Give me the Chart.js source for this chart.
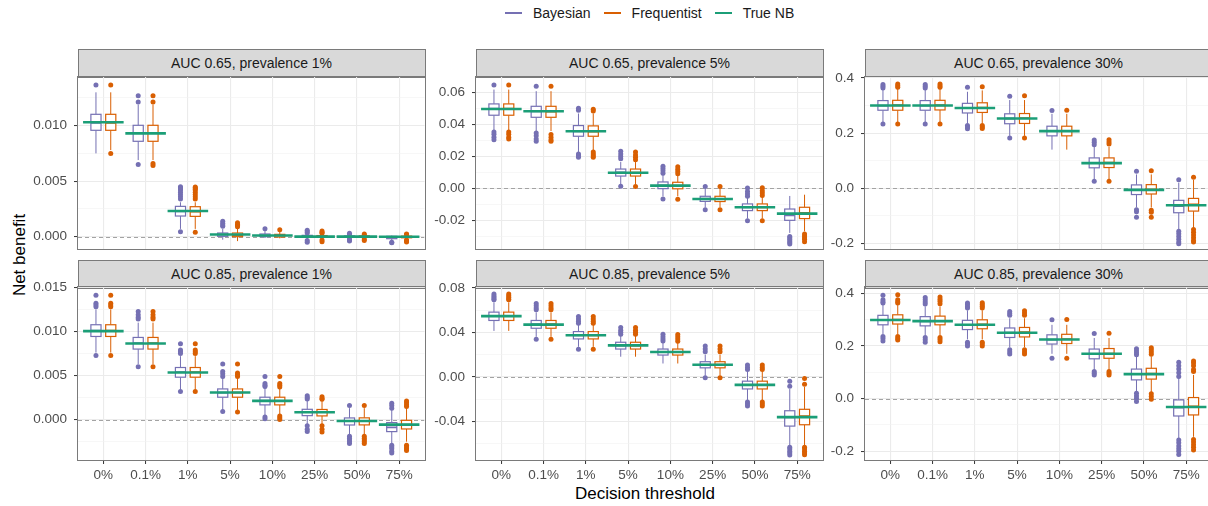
<!DOCTYPE html>
<html>
<head>
<meta charset="utf-8">
<script src="https://cdn.jsdelivr.net/npm/chart.js@4.4.1/dist/chart.umd.min.js"></script>
<style>
  html, body { margin: 0; padding: 0; background: #fff; overflow: hidden; }
  body { width: 1208px; height: 506px; position: relative; font-family: "Liberation Sans", Arial, sans-serif; }
  canvas { position: absolute; }
  .strip { position: absolute; box-sizing: border-box; background: #D9D9D9; border: 1px solid #7a7a7a;
           font-size: 14px; color: #1a1a1a; text-align: center; line-height: 26px; width: 348px; height: 29px; }
  .legend { position: absolute; top: 5px; left: 505px; display: flex; align-items: center; font-size: 14px; color: #1a1a1a; }
  .legend .sw { width: 17px; height: 2px; margin-right: 11px; }
  .legend .item { display: flex; align-items: center; margin-right: 13px; }
  .ytitle { position: absolute; left: 20px; top: 255px; transform: translate(-50%, -50%) rotate(-90deg); font-size: 17px; white-space: nowrap; }
  .xtitle { position: absolute; left: 645px; top: 494px; transform: translate(-50%, -50%); font-size: 17px; white-space: nowrap; }
</style>
</head>
<body>
<div class="legend">
  <div class="item"><div class="sw" style="background:#7570B3"></div>Bayesian</div>
  <div class="item"><div class="sw" style="background:#D95F02"></div>Frequentist</div>
  <div class="item"><div class="sw" style="background:#1B9E77"></div>True NB</div>
</div>
<div class="ytitle">Net benefit</div>
<div class="xtitle">Decision threshold</div>
<script>
// thresholds on the x axis
const thresholds = ['0%', '0.1%', '1%', '5%', '10%', '25%', '50%', '75%'];

// box stats per threshold: [lower whisker, q1, median, q3, upper whisker]

// AUC 0.65, prevalence 1%
const a65p1Bayes = [[0.0075, 0.00958, 0.01024, 0.01102, 0.0130], [0.0069, 0.00859, 0.00934, 0.01003, 0.0119], [0.0007, 0.00186, 0.00228, 0.00273, 0.0031], [-0.00027, 0.00003, 0.00018, 0.00033, 0.0007], [-0.00012, 0.0, 0.00012, 0.00024, 0.0005], [-0.0002, -0.00005, 0.0, 0.00012, 0.0003], [-0.0001, -0.00006, 0.0, 0.00006, 0.0001], [-0.00035, -0.00018, -0.00006, 0.00003, 0.0001]];
const a65p1BayesOut = [[0.01366], [0.0127, 0.01213, 0.0065], [0.0045, 0.0044, 0.0043, 0.0042, 0.0040, 0.0038, 0.0036, 0.0034, 0.00045], [0.00138, 0.0012, 0.00105, 0.00093], [0.00072], [0.00057, 0.00045, 0.00033, -0.00035, -0.0005], [0.0003, 0.0002, -0.0002, -0.0003, -0.0004], [-0.00054, -0.0005]];
const a65p1Freq = [[0.0078, 0.00958, 0.01024, 0.01102, 0.0130], [0.0069, 0.00859, 0.00934, 0.01003, 0.0119], [0.0007, 0.00183, 0.00225, 0.00270, 0.0031], [-0.0004, 0.0, 0.00015, 0.00033, 0.0007], [-0.00015, -0.00003, 0.0001, 0.00021, 0.00045], [-0.0002, -0.00006, 0.0, 0.0001, 0.00025], [-0.0001, -0.00006, 0.0, 0.00006, 0.0001], [-0.0002, -0.0001, -0.00003, 0.00005, 0.00015]];
const a65p1FreqOut = [[0.01366, 0.0075], [0.0127, 0.01213, 0.0066, 0.0064], [0.00448, 0.0044, 0.0043, 0.0042, 0.004, 0.0038, 0.0036, 0.0034, 0.0004], [0.00125, 0.0011, 0.001, 0.0009], [0.00063], [0.0005, 0.0004, 0.0003, -0.0003, -0.00045], [0.00025, 0.00015, -0.0002, -0.00035], [0.00024, 0.0002, -0.0003, -0.0004, -0.00048]];
const a65p1True = [0.0103, 0.0093, 0.00231, 0.0002, 0.0001, 0.0, 0.0, -0.00001];
const a65p1Y = [-0.00111, 0.01438];
const a65p1Ticks = [0, 0.005, 0.010];
const a65p1TickLabels = ['0.000', '0.005', '0.010'];
const a65p1Minor = [0.0025, 0.0075, 0.0125];

// AUC 0.65, prevalence 5%
const a65p5Bayes = [[0.036, 0.0459, 0.050, 0.053, 0.062], [0.036, 0.0446, 0.0484, 0.0515, 0.061], [0.0225, 0.0327, 0.0358, 0.0394, 0.047], [0.002, 0.0077, 0.010, 0.0121, 0.0165], [-0.005, -0.0002, 0.0019, 0.004, 0.0085], [-0.012, -0.0082, -0.0065, -0.005, 0.0], [-0.019, -0.014, -0.012, -0.0098, -0.0055], [-0.028, -0.0201, -0.017, -0.013, -0.0048]];
const a65p5BayesOut = [[0.0649, 0.0354, 0.034, 0.032, 0.0305], [0.0641, 0.0348, 0.033, 0.031, 0.0295], [0.0502, 0.049, 0.0215, 0.0205, 0.0195], [0.0232, 0.0215, 0.0200, 0.0185, 0.0013], [0.0138, 0.0125, 0.011, 0.0095, -0.0067], [0.0012, -0.0134], [0.0002, -0.002, -0.0035, -0.005, -0.0203], [-0.0302, -0.031, -0.032, -0.033, -0.034, -0.035]];
const a65p5Freq = [[0.036, 0.0459, 0.050, 0.053, 0.062], [0.036, 0.0446, 0.0482, 0.0515, 0.061], [0.024, 0.0327, 0.0356, 0.0392, 0.047], [0.0025, 0.0077, 0.0099, 0.0121, 0.0165], [-0.005, -0.0003, 0.0017, 0.0038, 0.0085], [-0.012, -0.0083, -0.0066, -0.005, 0.0], [-0.019, -0.014, -0.012, -0.0098, -0.0055], [-0.027, -0.019, -0.0155, -0.0119, -0.004]];
const a65p5FreqOut = [[0.0649, 0.0354, 0.034, 0.032, 0.031], [0.0641, 0.0338, 0.032, 0.0305, 0.0295], [0.0497, 0.0485, 0.0228, 0.0215, 0.0205, 0.0195], [0.0228, 0.021, 0.0195, 0.018, 0.0011], [0.0135, 0.012, 0.0105, 0.0092, -0.0068], [0.0011, -0.0135], [0.0004, -0.0015, -0.003, -0.0045, -0.0203], [-0.0287, -0.03, -0.031, -0.032, -0.0335]];
const a65p5True = [0.0498, 0.0484, 0.0358, 0.0098, 0.0017, -0.0067, -0.0119, -0.0159];
const a65p5Y = [-0.0381, 0.0699];
const a65p5Ticks = [-0.02, 0, 0.02, 0.04, 0.06];
const a65p5TickLabels = ['-0.02', '0.00', '0.02', '0.04', '0.06'];
const a65p5Minor = [-0.03, -0.01, 0.01, 0.03, 0.05];

// AUC 0.65, prevalence 30%
const a65p30Bayes = [[0.24, 0.283, 0.30, 0.318, 0.36], [0.24, 0.283, 0.30, 0.318, 0.36], [0.235, 0.273, 0.291, 0.308, 0.35], [0.19, 0.234, 0.253, 0.27, 0.32], [0.14, 0.19, 0.207, 0.225, 0.27], [0.03, 0.074, 0.092, 0.11, 0.15], [-0.07, -0.023, -0.005, 0.012, 0.05], [-0.15, -0.089, -0.065, -0.044, 0.02]];
const a65p30BayesOut = [[0.376, 0.37, 0.364, 0.233], [0.376, 0.37, 0.364, 0.233], [0.366, 0.228, 0.222, 0.216], [0.334, 0.182], [0.282], [0.175, 0.167, 0.158, 0.025], [0.062, -0.078, -0.085, -0.105], [0.031, -0.156, -0.165, -0.175, -0.185, -0.195, -0.202]];
const a65p30Freq = [[0.24, 0.283, 0.301, 0.319, 0.36], [0.24, 0.284, 0.301, 0.319, 0.36], [0.235, 0.275, 0.292, 0.31, 0.355], [0.19, 0.235, 0.254, 0.271, 0.32], [0.14, 0.19, 0.207, 0.225, 0.27], [0.03, 0.075, 0.093, 0.11, 0.15], [-0.07, -0.021, -0.004, 0.013, 0.05], [-0.145, -0.083, -0.059, -0.037, 0.03]];
const a65p30FreqOut = [[0.378, 0.372, 0.366, 0.233], [0.378, 0.372, 0.366, 0.233], [0.368, 0.228, 0.222, 0.217], [0.336, 0.182], [0.283], [0.176, 0.168, 0.16, 0.025], [0.063, -0.08, -0.087, -0.105], [0.04, -0.15, -0.16, -0.17, -0.18, -0.19, -0.195]];
const a65p30True = [0.30, 0.30, 0.291, 0.253, 0.207, 0.091, -0.006, -0.062];
const a65p30Y = [-0.2206, 0.4036];
const a65p30Ticks = [-0.2, 0, 0.2, 0.4];
const a65p30TickLabels = ['-0.2', '0.0', '0.2', '0.4'];
const a65p30Minor = [-0.1, 0.1, 0.3];

// AUC 0.85, prevalence 1%
const a85p1Bayes = [[0.0076, 0.00943, 0.01008, 0.01076, 0.0125], [0.0063, 0.008, 0.00867, 0.00932, 0.0110], [0.0034, 0.00481, 0.00538, 0.00591, 0.0072], [0.0011, 0.00254, 0.00307, 0.00348, 0.0048], [0.0005, 0.00167, 0.00216, 0.00254, 0.0036], [-0.0006, 0.00045, 0.00087, 0.00117, 0.0022], [-0.0018, -0.00061, -0.00015, 0.00019, 0.0013], [-0.0027, -0.00136, -0.00087, -0.00034, 0.0011]];
const a85p1BayesOut = [[0.0141, 0.0132, 0.013, 0.0128, 0.00727], [0.01227, 0.0119, 0.0116, 0.0114, 0.006], [0.0086, 0.0079, 0.0077, 0.0075, 0.00318], [0.0063, 0.00545, 0.0052, 0.0049, 0.00091], [0.0049, 0.0041, 0.0039, 0.00375, 0.0003, 0.0001], [0.0027, 0.0025, 0.00235, -0.0007, -0.0011, -0.00136], [0.0016, -0.0019, -0.0021, -0.0023, -0.0025, -0.0027], [0.00186, 0.0016, 0.0013, -0.0029, -0.0031, -0.0033, -0.0036, -0.0038]];
const a85p1Freq = [[0.0076, 0.00943, 0.01008, 0.01076, 0.0125], [0.0063, 0.008, 0.00867, 0.00932, 0.0110], [0.0034, 0.00481, 0.00538, 0.00591, 0.0072], [0.0011, 0.00254, 0.00305, 0.00348, 0.0048], [0.0005, 0.00167, 0.00212, 0.00254, 0.0036], [-0.0006, 0.00042, 0.00085, 0.00115, 0.0021], [-0.0018, -0.0006, -0.00015, 0.0002, 0.0013], [-0.0025, -0.00106, -0.00057, -0.00008, 0.0014]];
const a85p1FreqOut = [[0.0141, 0.0132, 0.013, 0.0128, 0.00727], [0.01227, 0.0119, 0.0116, 0.0114, 0.006], [0.0086, 0.0079, 0.0077, 0.0075, 0.00318], [0.0063, 0.0053, 0.0051, 0.0049, 0.00085], [0.0049, 0.0041, 0.0039, 0.0037, 0.0004, 0.0002, 0.0], [0.0026, 0.0024, 0.0023, -0.0007, -0.0011, -0.0014], [0.0016, -0.0019, -0.0021, -0.0023, -0.0025, -0.0027], [0.0021, 0.0019, 0.0017, 0.0015, -0.0029, -0.0031, -0.0033, -0.0035]];
const a85p1True = [0.01004, 0.00864, 0.00534, 0.00307, 0.00212, 0.00083, -0.00015, -0.00057];
const a85p1Y = [-0.00458, 0.01504];
const a85p1Ticks = [0, 0.005, 0.010, 0.015];
const a85p1TickLabels = ['0.000', '0.005', '0.010', '0.015'];
const a85p1Minor = [-0.0025, 0.0025, 0.0075, 0.0125];

// AUC 0.85, prevalence 5%
const a85p5Bayes = [[0.0413, 0.0507, 0.0546, 0.0582, 0.067], [0.036, 0.0437, 0.0473, 0.0507, 0.058], [0.027, 0.0341, 0.0374, 0.0407, 0.047], [0.0181, 0.025, 0.028, 0.0311, 0.037], [0.012, 0.0196, 0.0223, 0.025, 0.031], [0.001, 0.0081, 0.0109, 0.0136, 0.020], [-0.022, -0.0109, -0.0075, -0.0039, 0.005], [-0.062, -0.0443, -0.0365, -0.0305, -0.011]];
const a85p5BayesOut = [[0.0745, 0.073, 0.0715, 0.070, 0.0693], [0.066, 0.064, 0.062, 0.0603, 0.0338], [0.0543, 0.052, 0.050, 0.0482, 0.0247], [0.0443, 0.042, 0.040, 0.0383], [0.0383, 0.036, 0.034, 0.0323], [0.0277, 0.025, 0.0226, -0.0009], [0.0106, 0.0085, 0.0066, -0.0226, -0.0245, -0.0262], [-0.0039, -0.0084, -0.0633, -0.065, -0.067, -0.0685, -0.0703]];
const a85p5Freq = [[0.0413, 0.0507, 0.0546, 0.0582, 0.067], [0.036, 0.0437, 0.0473, 0.0507, 0.058], [0.027, 0.0341, 0.0374, 0.0407, 0.047], [0.0181, 0.025, 0.028, 0.0311, 0.037], [0.012, 0.0196, 0.0223, 0.025, 0.031], [0.001, 0.0081, 0.0109, 0.0136, 0.020], [-0.022, -0.0109, -0.0075, -0.0039, 0.005], [-0.062, -0.0431, -0.0353, -0.0292, -0.009]];
const a85p5FreqOut = [[0.0745, 0.073, 0.0715, 0.070, 0.0693], [0.066, 0.064, 0.062, 0.0603, 0.0338], [0.0543, 0.052, 0.050, 0.0482, 0.0247], [0.0443, 0.042, 0.040, 0.0383], [0.038, 0.036, 0.034, 0.032], [0.0277, 0.025, 0.0226, -0.0009], [0.0106, 0.0085, 0.0066, -0.0226, -0.0245, -0.0262], [-0.0015, -0.0066, -0.0633, -0.065, -0.067, -0.0685, -0.070]];
const a85p5True = [0.0546, 0.047, 0.0374, 0.0283, 0.0223, 0.0109, -0.0072, -0.0362];
const a85p5Y = [-0.0748, 0.0808];
const a85p5Ticks = [-0.04, 0, 0.04, 0.08];
const a85p5TickLabels = ['-0.04', '0.00', '0.04', '0.08'];
const a85p5Minor = [-0.06, -0.02, 0.02, 0.06];

// AUC 0.85, prevalence 30%
const a85p30Bayes = [[0.245, 0.28, 0.298, 0.316, 0.355], [0.24, 0.276, 0.293, 0.311, 0.35], [0.225, 0.262, 0.28, 0.297, 0.335], [0.195, 0.232, 0.25, 0.268, 0.305], [0.17, 0.207, 0.224, 0.242, 0.28], [0.11, 0.151, 0.17, 0.188, 0.23], [0.025, 0.071, 0.093, 0.112, 0.16], [-0.15, -0.066, -0.034, -0.005, 0.08]];
const a85p30BayesOut = [[0.392, 0.375, 0.368, 0.363, 0.236, 0.228, 0.219], [0.384, 0.375, 0.367, 0.359, 0.232, 0.223, 0.214], [0.363, 0.356, 0.349, 0.344, 0.214, 0.207, 0.2], [0.331, 0.323, 0.316, 0.185, 0.177, 0.169], [0.299, 0.153], [0.247, 0.103, 0.096, 0.09], [0.189, 0.181, 0.173, 0.166, 0.02, 0.01, 0.0, -0.011], [0.138, 0.125, 0.112, 0.098, 0.084, -0.157, -0.168, -0.18, -0.19, -0.2, -0.212]];
const a85p30Freq = [[0.245, 0.283, 0.3, 0.318, 0.355], [0.24, 0.28, 0.295, 0.313, 0.35], [0.225, 0.265, 0.282, 0.299, 0.335], [0.195, 0.234, 0.252, 0.27, 0.305], [0.17, 0.209, 0.226, 0.244, 0.28], [0.11, 0.153, 0.171, 0.19, 0.23], [0.025, 0.074, 0.095, 0.115, 0.16], [-0.145, -0.062, -0.03, 0.004, 0.09]];
const a85p30FreqOut = [[0.394, 0.375, 0.368, 0.363, 0.236, 0.228, 0.222], [0.386, 0.377, 0.369, 0.36, 0.232, 0.224, 0.216], [0.364, 0.357, 0.35, 0.344, 0.214, 0.207, 0.2], [0.333, 0.325, 0.316, 0.185, 0.177, 0.169], [0.3, 0.153], [0.248, 0.103, 0.096, 0.09], [0.193, 0.185, 0.177, 0.168, 0.018, 0.008, -0.002], [0.143, 0.135, 0.125, 0.11, 0.103, -0.155, -0.165, -0.175, -0.185, -0.195]];
const a85p30True = [0.298, 0.294, 0.28, 0.25, 0.224, 0.17, 0.093, -0.032];
const a85p30Y = [-0.233, 0.4235];
const a85p30Ticks = [-0.2, 0, 0.2, 0.4];
const a85p30TickLabels = ['-0.2', '0.0', '0.2', '0.4'];
const a85p30Minor = [-0.1, 0.1, 0.3];

const BAYES_COL = '#7570B3';
const FREQ_COL = '#D95F02';
const TRUE_COL = '#1B9E77';
const DODGE = 0.175;      // box offset from category centre, in category units
const BOX_HALF = 0.12;
const TRUE_HALF = 0.48;

const colLeft = [78, 476, 865];
const plotTop = [77, 287];
const plotH = [172, 173];
const stripTop = [49, 260];
const PLOT_W = 347;
const AXIS_W = 60;

const panels = [
  { title: 'AUC 0.65, prevalence 1%', bayes: a65p1Bayes, bayesOut: a65p1BayesOut, freq: a65p1Freq, freqOut: a65p1FreqOut, truth: a65p1True, yr: a65p1Y, ticks: a65p1Ticks, labels: a65p1TickLabels, minor: a65p1Minor, col: 0, row: 0 },
  { title: 'AUC 0.65, prevalence 5%', bayes: a65p5Bayes, bayesOut: a65p5BayesOut, freq: a65p5Freq, freqOut: a65p5FreqOut, truth: a65p5True, yr: a65p5Y, ticks: a65p5Ticks, labels: a65p5TickLabels, minor: a65p5Minor, col: 1, row: 0 },
  { title: 'AUC 0.65, prevalence 30%', bayes: a65p30Bayes, bayesOut: a65p30BayesOut, freq: a65p30Freq, freqOut: a65p30FreqOut, truth: a65p30True, yr: a65p30Y, ticks: a65p30Ticks, labels: a65p30TickLabels, minor: a65p30Minor, col: 2, row: 0 },
  { title: 'AUC 0.85, prevalence 1%', bayes: a85p1Bayes, bayesOut: a85p1BayesOut, freq: a85p1Freq, freqOut: a85p1FreqOut, truth: a85p1True, yr: a85p1Y, ticks: a85p1Ticks, labels: a85p1TickLabels, minor: a85p1Minor, col: 0, row: 1 },
  { title: 'AUC 0.85, prevalence 5%', bayes: a85p5Bayes, bayesOut: a85p5BayesOut, freq: a85p5Freq, freqOut: a85p5FreqOut, truth: a85p5True, yr: a85p5Y, ticks: a85p5Ticks, labels: a85p5TickLabels, minor: a85p5Minor, col: 1, row: 1 },
  { title: 'AUC 0.85, prevalence 30%', bayes: a85p30Bayes, bayesOut: a85p30BayesOut, freq: a85p30Freq, freqOut: a85p30FreqOut, truth: a85p30True, yr: a85p30Y, ticks: a85p30Ticks, labels: a85p30TickLabels, minor: a85p30Minor, col: 2, row: 1 }
];

Chart.defaults.font.family = '"Liberation Sans", Arial, sans-serif';

function outlierPoints(out, shift) {
  return out.flatMap((vals, i) => vals.map(v => ({ x: i + shift, y: v })));
}

// boxes, whiskers, zero line, true NB bars and the panel frame
function boxPlugin(p) {
  const groups = [
    { stats: p.bayes, shift: -DODGE, color: BAYES_COL },
    { stats: p.freq, shift: DODGE, color: FREQ_COL }
  ];
  return {
    id: 'boxPlot',
    beforeDatasetsDraw(chart) {
      const { ctx, chartArea: a, scales: { x, y } } = chart;
      ctx.save();
      ctx.beginPath();
      ctx.rect(a.left, a.top, a.width, a.height);
      ctx.clip();
      const y0 = Math.round(y.getPixelForValue(0)) + 0.5;
      ctx.strokeStyle = '#A3A3A3';
      ctx.lineWidth = 1;
      ctx.setLineDash([4, 3]);
      ctx.beginPath();
      ctx.moveTo(a.left, y0);
      ctx.lineTo(a.right, y0);
      ctx.stroke();
      ctx.setLineDash([]);
      groups.forEach(g => {
        g.stats.forEach((s, i) => {
          const [lo, q1, med, q3, hi] = s.map(v => y.getPixelForValue(v));
          const cx = x.getPixelForValue(i + g.shift);
          const l = x.getPixelForValue(i + g.shift - BOX_HALF);
          const r = x.getPixelForValue(i + g.shift + BOX_HALF);
          ctx.strokeStyle = g.color;
          ctx.lineWidth = 1;
          ctx.beginPath();
          ctx.moveTo(cx, lo); ctx.lineTo(cx, q1);
          ctx.moveTo(cx, q3); ctx.lineTo(cx, hi);
          ctx.stroke();
          ctx.fillStyle = '#fff';
          ctx.fillRect(l, q3, r - l, q1 - q3);
          ctx.lineWidth = 1.2;
          ctx.strokeRect(l, q3, r - l, q1 - q3);
          ctx.lineWidth = 1.8;
          ctx.beginPath();
          ctx.moveTo(l, med); ctx.lineTo(r, med);
          ctx.stroke();
        });
      });
      ctx.restore();
    },
    afterDatasetsDraw(chart) {
      const { ctx, chartArea: a, scales: { x, y } } = chart;
      ctx.save();
      ctx.strokeStyle = TRUE_COL;
      ctx.lineWidth = 2.6;
      p.truth.forEach((v, i) => {
        const py = y.getPixelForValue(v);
        ctx.beginPath();
        ctx.moveTo(x.getPixelForValue(i - TRUE_HALF), py);
        ctx.lineTo(x.getPixelForValue(i + TRUE_HALF), py);
        ctx.stroke();
      });
      ctx.strokeStyle = '#7a7a7a';
      ctx.lineWidth = 1;
      ctx.strokeRect(Math.round(a.left) - 0.5, Math.round(a.top) - 0.5, Math.round(a.width) + 1, Math.round(a.height) + 1);
      ctx.restore();
    }
  };
}

const gridColor = c => (c.tick && c.tick.minor) ? '#F2F2F2' : '#EBEBEB';
const gridWidth = c => (c.tick && c.tick.minor) ? 0.6 : 1.1;
const tickColor = c => (c.tick && c.tick.minor) ? 'rgba(0,0,0,0)' : '#333333';

panels.forEach(p => {
  const showX = p.row === 1;
  const left = colLeft[p.col];
  const top = plotTop[p.row];
  const h = plotH[p.row];

  const strip = document.createElement('div');
  strip.className = 'strip';
  strip.style.left = (left - 0.5) + 'px';
  strip.style.top = stripTop[p.row] + 'px';
  strip.textContent = p.title;
  document.body.appendChild(strip);

  const cv = document.createElement('canvas');
  cv.width = AXIS_W + PLOT_W + 2;
  cv.height = 10 + h + (showX ? 26 : 10);
  cv.style.left = (left - AXIS_W) + 'px';
  cv.style.top = (top - 10) + 'px';
  document.body.appendChild(cv);

  const yTicks = p.ticks.map((v, k) => ({ value: v, lbl: p.labels[k] }))
    .concat(p.minor.map(v => ({ value: v, minor: true })))
    .sort((a, b) => a.value - b.value);

  new Chart(cv, {
    type: 'scatter',
    data: {
      datasets: [
        { label: 'Bayesian', data: outlierPoints(p.bayesOut, -DODGE), backgroundColor: BAYES_COL, borderWidth: 0, pointRadius: 2.5, pointHoverRadius: 2.5 },
        { label: 'Frequentist', data: outlierPoints(p.freqOut, DODGE), backgroundColor: FREQ_COL, borderWidth: 0, pointRadius: 2.5, pointHoverRadius: 2.5 }
      ]
    },
    options: {
      responsive: false,
      animation: false,
      events: [],
      layout: { padding: { top: 10, bottom: showX ? 0 : 10, left: 0, right: 2 } },
      plugins: { legend: { display: false }, tooltip: { enabled: false } },
      scales: {
        x: {
          type: 'linear',
          min: -0.6,
          max: 7.6,
          bounds: 'data',
          afterBuildTicks: s => { s.ticks = thresholds.map((t, i) => ({ value: i })); },
          afterFit: s => { s.height = showX ? 26 : 0; s.paddingLeft = 0; s.paddingRight = 0; },
          ticks: {
            display: showX,
            autoSkip: false,
            maxRotation: 0,
            padding: 3,
            color: '#4D4D4D',
            font: { size: 13.5 },
            callback: (v, i) => thresholds[i]
          },
          grid: { color: '#EBEBEB', lineWidth: 1.1, drawTicks: showX, tickLength: 4, tickColor: '#333333', tickWidth: 1 },
          border: { display: false }
        },
        y: {
          min: p.yr[0],
          max: p.yr[1],
          bounds: 'data',
          afterBuildTicks: s => { s.ticks = yTicks.map(t => Object.assign({}, t)); },
          afterFit: s => { s.width = AXIS_W; s.paddingTop = 0; s.paddingBottom = 0; },
          ticks: {
            autoSkip: false,
            padding: 7,
            color: '#4D4D4D',
            font: { size: 13.5 },
            callback: (v, i, ts) => ts[i].minor ? '' : ts[i].lbl
          },
          grid: { color: gridColor, lineWidth: gridWidth, tickColor: tickColor, tickLength: 4, tickWidth: 1 },
          border: { display: false }
        }
      }
    },
    plugins: [boxPlugin(p)]
  });
});
</script>
</body>
</html>
